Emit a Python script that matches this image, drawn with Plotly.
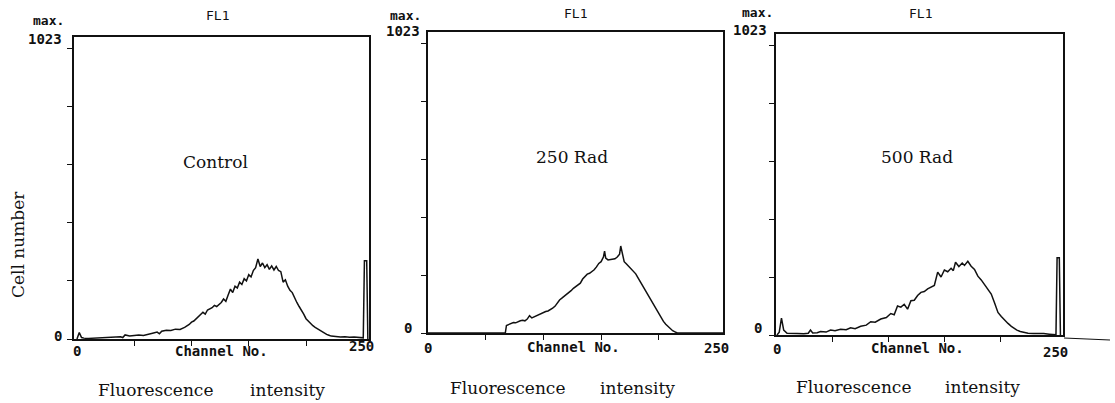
import plotly.graph_objects as go

# ---------------- data ----------------
ctrl_ch = [0,2,4,6,10,14,18,22,26,30,34,38,40,42,46,50,54,58,62,66,70,72,74,78,82,86,90,94,98,100,102,106,110,112,114,118,120,122,
           126,128,130,132,134,136,138,140,142,144,146,148,150,152,154,156,158,160,162,164,166,168,170,172,174,176,178,180,182,184,
           186,188,190,192,194,196,198,200,202,204,206,208,210,212,214,216,218,220,222,226,230,234,238,242,246,250,251,253,254]
ctrl_n = [0,22,5,3,2,3,4,5,5,6,7,8,5,14,10,12,14,12,15,20,24,18,27,30,29,34,33,40,50,58,62,78,92,86,100,108,116,112,
          126,138,130,152,172,160,182,176,196,188,208,200,222,214,236,246,276,250,262,246,256,240,252,238,250,236,232,196,204,182,
          168,160,140,126,112,100,86,70,62,52,46,40,35,30,24,20,16,13,10,9,7,8,6,7,5,4,270,270,0]

r250_ch = [0,20,40,60,66,67,
           68,70,72,74,76,78,80,82,84,86,88,90,92,94,96,98,100,102,104,106,108,110,112,114,116,118,120,122,124,126,
           128,130,132,134,136,138,140,142,144,146,148,150,152,153,154,156,158,160,162,164,166,167,168,169,
           170,172,174,176,178,180,182,184,186,188,190,192,194,196,198,200,202,204,206,208,210,212,214,216,220,240,256]
r250_n = [0,0,0,0,0,0,
          26,30,34,36,35,40,42,44,42,48,60,52,56,58,64,66,70,74,76,80,86,92,104,114,120,126,134,140,146,154,
          160,166,172,186,196,203,206,212,218,228,240,246,262,282,258,252,254,254,256,262,272,300,282,252,
          246,238,230,222,212,204,190,176,166,150,134,122,106,92,78,64,52,40,30,22,14,8,4,0,0,0,0]

r500_ch = [0,2,4,6,9,14,18,24,28,30,32,36,39,44,48,52,57,62,66,70,75,80,84,88,93,98,102,105,108,111,114,117,120,123,126,
           129,132,135,138,141,144,147,150,153,156,158,160,163,166,168,171,174,177,180,183,186,189,192,195,198,201,204,207,
           210,213,215,218,221,225,230,235,239,244,248,250,251,253,254]
r500_n = [0,10,58,17,6,4,5,4,6,17,7,8,12,10,17,15,20,18,25,22,30,34,46,44,55,60,74,70,100,96,106,89,118,120,136,
          147,150,159,165,171,217,200,224,218,230,222,251,236,248,240,254,237,226,203,190,175,160,141,110,78,64,50,40,
          30,22,17,12,9,6,5,6,5,3,2,1,266,266,0]

panel_names = ["Control", "250 Rad", "500 Rad"]
y_ticks = [0, 200, 400, 600, 800, 1000]
x_ticks = [50, 100, 150, 200]
x_tick_labels = ["0", "250"]
y_tick_labels = ["0", "1023"]

series = [(ctrl_ch, ctrl_n), (r250_ch, r250_n), (r500_ch, r500_n)]

# ---------------- layout geometry (pixels) ----------------
W, H = 1115, 403
# (left px, right px, xmin, xmax, bottom px, top px, ymax)
geo = [
    (74, 369, -2.6, 255.0, 339, 37, 1041),
    (427.5, 723, -0.4, 255.6, 333, 32, 1038),
    (776, 1063, -0.9, 256.3, 335, 34, 1038),
]

def px(x):
    return x / W

def py(y):
    return 1 - y / H

fig = go.Figure()
for i, ((ch, n), g) in enumerate(zip(series, geo)):
    sfx = "" if i == 0 else str(i + 1)
    fig.add_trace(go.Scatter(x=ch, y=n, mode="lines",
                             line=dict(color="#111111", width=1.5),
                             xaxis="x" + sfx, yaxis="y" + sfx, showlegend=False,
                             name=panel_names[i]))
    axcommon = dict(showgrid=False, zeroline=False, showline=True, mirror=True,
                    linecolor="#111111", linewidth=1.5, ticks="outside", ticklen=5,
                    tickwidth=1.3, tickcolor="#111111", showticklabels=False, fixedrange=True)
    fig.layout["xaxis" + sfx] = dict(domain=[px(g[0]), px(g[1])], range=[g[2], g[3]],
                                     tickvals=x_ticks, anchor="y" + sfx, **axcommon)
    fig.layout["yaxis" + sfx] = dict(domain=[py(g[4]), py(g[5])], range=[0, g[6]],
                                     tickvals=y_ticks, anchor="x" + sfx, **axcommon)

mono = "DejaVu Sans Mono"
serif = "DejaVu Serif"
ann = []

def text(t, x, y, family, size, bold=False, angle=0):
    ann.append(dict(text=("<b>%s</b>" % t) if bold else t, x=px(x), y=py(y),
                    xref="paper", yref="paper", showarrow=False, textangle=angle,
                    xanchor="center", yanchor="middle",
                    font=dict(family=family, size=size, color="#111111")))

# per-panel text positions (pixel centres)
labels = [
    dict(mx=(48, 20), t1023=(45, 39), fl=(217, 15), y0=(58, 336), x0=(77, 351), x250=(361, 346),
         chan=(221, 351), fluo=(155, 390), inten=(287, 390), name=(215, 162)),
    dict(mx=(405, 15), t1023=(403, 31), fl=(575, 14), y0=(408, 328), x0=(428, 348), x250=(716, 348),
         chan=(573, 347), fluo=(507, 388), inten=(637, 388), name=(572, 157)),
    dict(mx=(757, 13), t1023=(750, 30), fl=(920, 14), y0=(758, 328), x0=(777, 349), x250=(1055, 352),
         chan=(917, 348), fluo=(853, 387), inten=(982, 387), name=(917, 157)),
]
for i, L in enumerate(labels):
    text("max.", *L["mx"], mono, 13, bold=True)
    text(y_tick_labels[1], *L["t1023"], mono, 14, bold=True)
    text("FL1", *L["fl"], mono, 13)
    text(y_tick_labels[0], *L["y0"], mono, 14, bold=True)
    text(x_tick_labels[0], *L["x0"], mono, 14, bold=True)
    text(x_tick_labels[1], *L["x250"], mono, 14, bold=True)
    text("Channel No.", *L["chan"], mono, 14, bold=True)
    text("Fluorescence", *L["fluo"], serif, 17)
    text("intensity", *L["inten"], serif, 17)
    text(panel_names[i], *L["name"], serif, 17)

text("Cell number", 18, 245, serif, 17, angle=-90)

fig.update_layout(
    width=W, height=H, margin=dict(l=0, r=0, t=0, b=0),
    paper_bgcolor="white", plot_bgcolor="white",
    annotations=ann,
    shapes=[dict(type="line", xref="paper", yref="paper", x0=px(1064), y0=py(338), x1=px(1110), y1=py(340),
                 line=dict(color="#111111", width=1.2))],
)

fig.write_html("out.html", config={"displayModeBar": False},
               post_script="document.body.style.margin='0';document.body.style.padding='0';document.body.style.overflow='hidden';")
